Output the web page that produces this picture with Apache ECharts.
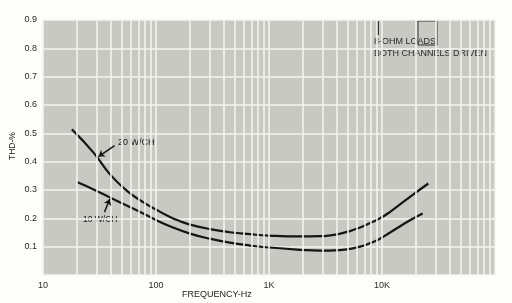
<!DOCTYPE html>
<html><head><meta charset="utf-8">
<script src="https://cdn.jsdelivr.net/npm/echarts@6/dist/echarts.min.js"></script>
<style>html,body{margin:0;padding:0;background:#fdfdf9}#c{width:512px;height:303px}</style>
</head><body><div id="c"></div>
<script>
// Data
const freq20 = [18, 28, 39, 55, 77, 100, 133, 163, 200, 300, 450, 680, 1000, 1900, 2800, 3500, 4200, 5200, 6400, 7800, 9600, 11800, 17700, 25700];
const thd20  = [0.514, 0.432, 0.356, 0.298, 0.257, 0.231, 0.205, 0.190, 0.178, 0.162, 0.151, 0.144, 0.139, 0.136, 0.137, 0.140, 0.145, 0.155, 0.168, 0.183, 0.200, 0.223, 0.276, 0.323];
const freq10 = [20, 28, 39, 55, 77, 100, 133, 200, 300, 450, 680, 1000, 1900, 2800, 4200, 5200, 6400, 7800, 9600, 11800, 17700, 22900];
const thd10  = [0.328, 0.302, 0.274, 0.245, 0.217, 0.194, 0.172, 0.146, 0.128, 0.114, 0.104, 0.097, 0.089, 0.086, 0.088, 0.092, 0.100, 0.112, 0.128, 0.150, 0.193, 0.217];
const xTickLabels = {10: '10', 100: '100', 1000: '1K', 10000: '10K'};
const yTicks = [0.1, 0.2, 0.3, 0.4, 0.5, 0.6, 0.7, 0.8, 0.9];
const decades = [10, 100, 1000, 10000];
const mults = [1, 2, 3, 4, 5, 6, 7, 8, 9];

const gridX = [];
decades.forEach(d => mults.forEach(m => gridX.push(d * m)));
gridX.push(100000);

const FONT = 'Liberation Sans';
const chart = echarts.init(document.getElementById('c'), null, {renderer: 'canvas'});
chart.setOption({
  backgroundColor: '#fdfdf9',
  animation: false,
  grid: {left: 43, right: 17, top: 20, bottom: 28, show: true, backgroundColor: '#c8c9c3', borderWidth: 0},
  xAxis: {
    type: 'log', logBase: 10, min: 10, max: 100000,
    axisLine: {show: false}, axisTick: {show: false}, splitLine: {show: false},
    axisLabel: {color: '#2a2a2a', fontFamily: FONT, fontSize: 9, margin: 6,
      formatter: v => xTickLabels[Math.round(v)] || ''}
  },
  yAxis: {
    type: 'value', min: 0, max: 0.9, interval: 0.1,
    axisLine: {show: false}, axisTick: {show: false},
    splitLine: {show: true, lineStyle: {color: '#f4f4ee', width: 1.6}},
    axisLabel: {color: '#2a2a2a', fontFamily: FONT, fontSize: 9, margin: 6,
      formatter: v => (yTicks.some(t => Math.abs(t - v) < 1e-6) ? v.toFixed(1) : '')}
  },
  series: [
    {
      type: 'line', data: [], z: 1, silent: true,
      markLine: {
        silent: true, symbol: ['none', 'none'], label: {show: false},
        lineStyle: {color: '#f4f4ee', width: 1.6, type: 'solid'},
        data: gridX.map(v => ({xAxis: v}))
      }
    },
    {
      name: '20 W/CH', type: 'line', z: 3, smooth: 0.5, showSymbol: false,
      lineStyle: {color: '#151515', width: 2.2},
      data: freq20.map((f, i) => [f, thd20[i]]),
      markLine: {
        silent: true, symbol: ['none', 'arrow'], symbolSize: 6, label: {show: false},
        lineStyle: {color: '#151515', width: 1.5, type: 'solid'},
        data: [[{coord: [43, 0.457]}, {coord: [31, 0.418]}]]
      }
    },
    {
      name: '10 W/CH', type: 'line', z: 3, smooth: 0.5, showSymbol: false,
      lineStyle: {color: '#151515', width: 2.2},
      data: freq10.map((f, i) => [f, thd10[i]]),
      markLine: {
        silent: true, symbol: ['none', 'arrow'], symbolSize: 6, label: {show: false},
        lineStyle: {color: '#151515', width: 1.5, type: 'solid'},
        data: [[{coord: [35, 0.222]}, {coord: [39, 0.268]}]]
      }
    }
  ],
  graphic: [
    {type: 'text', left: 118, top: 138, style: {text: '20 W/CH', font: '9px "Liberation Sans"', fill: '#1a1a1a'}},
    {type: 'text', left: 83, top: 215, style: {text: '10 W/CH', font: '8.5px "Liberation Sans"', fill: '#1a1a1a'}},
    {type: 'text', left: 182, top: 290, style: {text: 'FREQUENCY-Hz', font: '9px "Liberation Sans"', fill: '#1a1a1a'}},
    {type: 'text', x: 8, y: 160, rotation: Math.PI / 2, style: {text: 'THD-%', font: '8.5px "Liberation Sans"', fill: '#1a1a1a'}},
    {type: 'text', left: 374, top: 37, style: {text: '8-OHM LOADS', font: '9px "Liberation Sans"', fill: '#2a2a2a'}},
    {type: 'text', left: 374, top: 49, style: {text: 'BOTH CHANNELS DRIVEN', font: '9px "Liberation Sans"', fill: '#2a2a2a'}},
    {type: 'rect', shape: {x: 418, y: 21, width: 19, height: 24}, style: {fill: 'none', stroke: '#333', lineWidth: 1}},
    {type: 'rect', shape: {x: 377, y: 21, width: 2, height: 14}, style: {fill: '#333'}}
  ]
});
</script></body></html>
